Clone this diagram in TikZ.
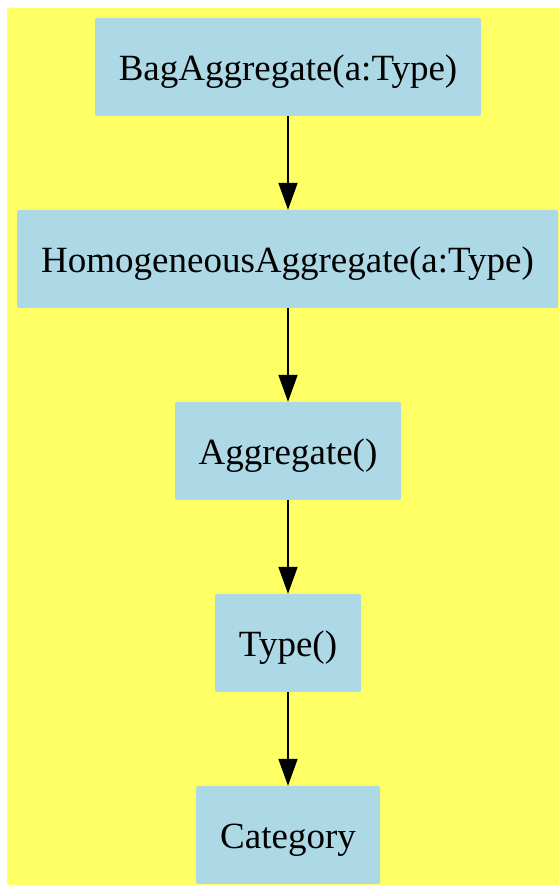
\documentclass[tikz,border=0pt]{standalone}
\usepackage{fontspec}
\setmainfont{Liberation Serif}
\usetikzlibrary{arrows.meta}
\begin{document}
\begin{tikzpicture}[x=1pt,y=1pt,
  box/.style={fill=boxblue, rounded corners=1.5pt, inner sep=0pt, text height=30pt, text depth=2.5pt, font=\fontsize{37}{44}\selectfont},
  conn/.style={draw=black, line width=1.8pt, -{Triangle[length=27pt,width=19pt]}}]
\definecolor{boxblue}{HTML}{ADD8E6}
\definecolor{bgyellow}{HTML}{FFFF66}
\useasboundingbox (0,0) rectangle (559,885);
\fill[bgyellow] (7,0) rectangle (559,877);
\node[box, minimum width=386pt, minimum height=98pt] (a) at (288,818) {BagAggregate(a:Type)};
\node[box, minimum width=541pt, minimum height=98pt] (b) at (287.5,626) {HomogeneousAggregate(a:Type)};
\node[box, minimum width=226pt, minimum height=98pt] (c) at (288,434) {Aggregate()};
\node[box, minimum width=146pt, minimum height=98pt] (d) at (288,242) {Type()};
\node[box, minimum width=184pt, minimum height=98pt] (e) at (288,50) {Category};
\draw[conn] (a) -- (a.south |- b.north);
\draw[conn] (c.north |- b.south) -- (c);
\draw[conn] (c) -- (d);
\draw[conn] (d) -- (e);
\end{tikzpicture}
\end{document}
